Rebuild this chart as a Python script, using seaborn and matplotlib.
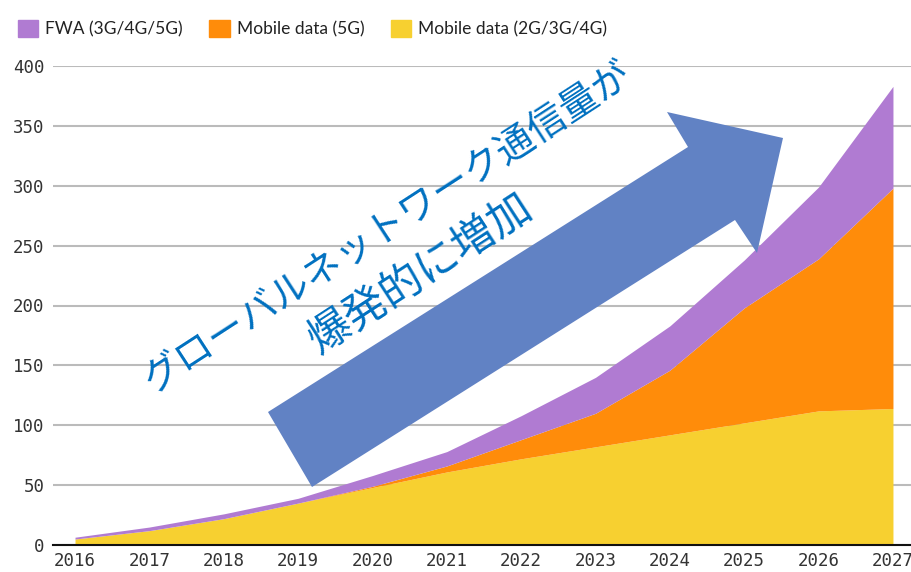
import matplotlib
matplotlib.use('Agg')
import matplotlib.pyplot as plt
from matplotlib.patches import Patch, Polygon
import seaborn as sns

# mobile network data traffic, stacked by type
years = [2016, 2017, 2018, 2019, 2020, 2021, 2022, 2023, 2024, 2025, 2026, 2027]
mobile_legacy = [5, 12, 22, 35, 48, 61, 72, 82, 92, 102, 112, 114]
mobile_5g = [0, 0, 0, 0, 1, 5, 16, 28, 54, 96, 127, 184]
fwa = [1.5, 3, 4, 4, 9, 12, 20, 30, 37, 40, 60, 85]
labels = ['FWA (3G/4G/5G)', 'Mobile data (5G)', 'Mobile data (2G/3G/4G)']
y_ticks = [0, 50, 100, 150, 200, 250, 300, 350, 400]
line1 = 'グローバルネットワーク通信量が'
line2 = '爆発的に増加'

purple = '#B07BD2'
orange = '#FF8C0A'
yellow = '#F7D030'

sns.set_theme(style='whitegrid')
plt.rcParams['font.family'] = ['Lato', 'DejaVu Sans']

W, H = 912, 572
fig = plt.figure(figsize=(W / 100, H / 100), dpi=100)
ax = fig.add_axes([53 / W, (H - 545) / H, (W - 53) / W, (545 - 66) / H])

ax.stackplot(years, mobile_legacy, mobile_5g, fwa,
             colors=[yellow, orange, purple], linewidth=0, zorder=2)

ax.set_xlim(2015.704, 2027.256)
ax.set_ylim(0, 400)
ax.set_xticks(years)
ax.set_yticks(y_ticks)
ax.grid(axis='x', visible=False)
ax.grid(axis='y', color='#BBBBBB', linewidth=1.5)
ax.set_axisbelow(True)
sns.despine(ax=ax, left=True, right=True, top=True)
ax.spines['bottom'].set_color('#111111')
ax.spines['bottom'].set_linewidth(1.5)
ax.spines['bottom'].set_zorder(5)
for lab in ax.get_xticklabels() + ax.get_yticklabels():
    lab.set_family('DejaVu Sans Mono')
    lab.set_fontsize(12.5)
    lab.set_color('#333333')
ax.tick_params(axis='both', length=0)
ax.tick_params(axis='x', pad=5)
ax.tick_params(axis='y', pad=6)

# legend along the top
handles = [Patch(color=purple), Patch(color=orange), Patch(color=yellow)]
fig.legend(handles, labels, loc='upper left', bbox_to_anchor=(2 / W, 1 - 4 / H),
           ncol=3, frameon=False, fontsize=12.5, handlelength=1.2, handleheight=1.2,
           handletextpad=0.4, columnspacing=1.5, labelcolor='#222222')

# big blue arrow overlay (pixel coords, origin top-left)
arrow_px = [(268, 412), (688, 147), (667, 112), (783, 138),
            (757, 253), (735, 220), (312, 487)]
arrow = Polygon([(x / W, 1 - y / H) for x, y in arrow_px], closed=True,
                transform=fig.transFigure, facecolor='#6182C4', edgecolor='none', zorder=10)
fig.add_artist(arrow)

cjk = ['Noto Sans CJK JP', 'DejaVu Sans']
fig.text(388 / W, 1 - 227 / H, line1, rotation=33, rotation_mode='anchor',
         ha='center', va='center', fontsize=27.5, color='#0070C0', family=cjk, zorder=11)
fig.text(420 / W, 1 - 274 / H, line2, rotation=33, rotation_mode='anchor',
         ha='center', va='center', fontsize=31, color='#0070C0', family=cjk, zorder=11)

fig.savefig('out.png', dpi=100)
